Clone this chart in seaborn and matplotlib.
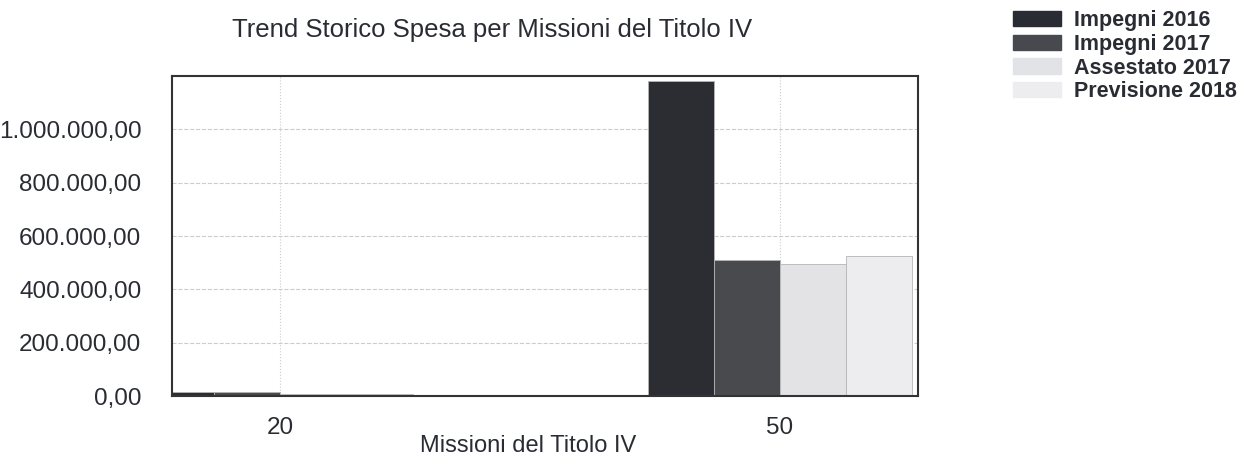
import numpy as np
import pandas as pd
import matplotlib
matplotlib.use("Agg")
import matplotlib.pyplot as plt
import matplotlib.ticker as mticker
import seaborn as sns

missioni = ["20", "50"]
serie = ["Impegni 2016", "Impegni 2017", "Assestato 2017", "Previsione 2018"]
impegni_2016 = [15000, 1180000]
impegni_2017 = [15000, 510000]
assestato_2017 = [7000, 495000]
previsione_2018 = [7000, 525000]
colori = ["#2a2c33", "#47494f", "#e2e3e6", "#ededef"]


def fmt_it(v, pos=None):
    s = f"{v:,.2f}"
    return s.replace(",", "X").replace(".", ",").replace("X", ".")


def main():
    rows = []
    for name, vals in zip(serie, [impegni_2016, impegni_2017, assestato_2017, previsione_2018]):
        for m, v in zip(missioni, vals):
            rows.append({"Missione": m, "Serie": name, "Valore": v})
    data = pd.DataFrame(rows)

    sns.set_style("white")
    plt.rcParams["font.family"] = ["Liberation Sans", "DejaVu Sans"]

    fig = plt.figure(figsize=(12.47, 4.67), dpi=100)
    ax = fig.add_axes([172 / 1247, (467 - 396) / 467, (918 - 172) / 1247, (396 - 76) / 467])

    sns.barplot(data=data, x="Missione", y="Valore", hue="Serie", palette=colori,
                width=0.53, dodge=True, edgecolor="#b5b5b5", linewidth=0.6, ax=ax,
                legend=False)

    ax.set_xlim(-0.216, 1.276)
    ax.set_ylim(0, 1200000)
    ax.set_yticks([0, 200000, 400000, 600000, 800000, 1000000])
    ax.yaxis.set_major_formatter(mticker.FuncFormatter(fmt_it))
    ax.tick_params(axis="y", labelsize=17.5, colors="#2a2c33", length=5, pad=17)
    ax.tick_params(axis="x", labelsize=17.5, colors="#2a2c33", length=5, pad=10)
    ax.grid(axis="y", color="#cccccc", linestyle="--", linewidth=0.8)
    ax.grid(axis="x", color="#cccccc", linestyle=":", linewidth=0.8)
    ax.set_axisbelow(True)
    for sp in ax.spines.values():
        sp.set_color("#333333")
        sp.set_linewidth(1.5)

    ax.set_ylabel("")
    ax.set_xlabel("")
    fig.text(528 / 1247, 1 - 446 / 467, "Missioni del Titolo IV",
             ha="center", va="center", fontsize=17, color="#2a2c33")
    fig.text(492 / 1247, 1 - 30 / 467, "Trend Storico Spesa per Missioni del Titolo IV",
             ha="center", va="center", fontsize=18.5, color="#2a2c33")

    handles = [plt.Rectangle((0, 0), 1, 1, color=c) for c in colori]
    fig.legend(handles, serie, loc="upper left", bbox_to_anchor=(994 / 1247, 1 + 9 / 467),
               frameon=False, prop={"size": 15.5, "weight": "bold"}, labelspacing=0.12,
               handlelength=2.2, handletextpad=0.6, labelcolor="#2a2c33")

    fig.savefig("out.png", dpi=100)


if __name__ == "__main__":
    main()
